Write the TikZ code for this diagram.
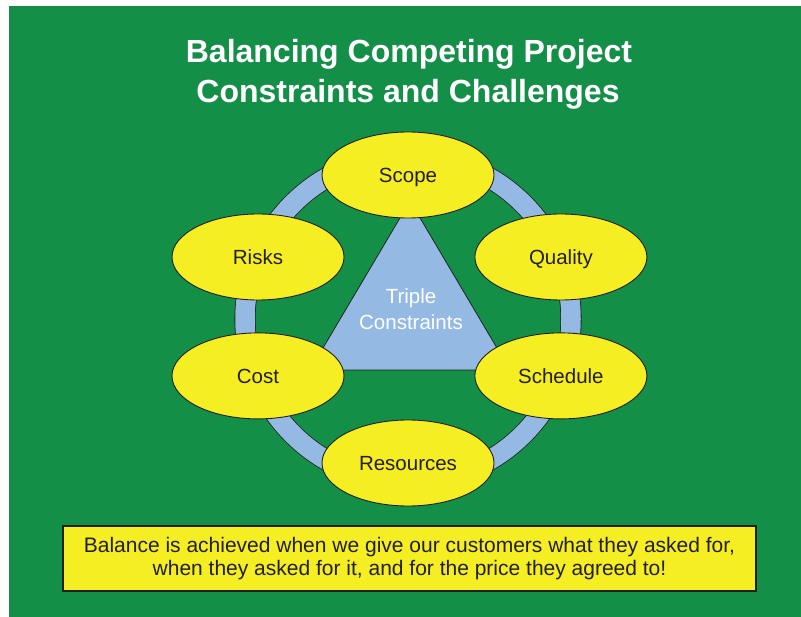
\documentclass[tikz,border=0pt]{standalone}
\usepackage{fontspec}
\setmainfont{Liberation Sans}
\usepackage{xcolor}
\usepackage{tikz}
\usetikzlibrary{positioning,calc,shapes.geometric}
\definecolor{bggreen}{RGB}{20,143,72}
\definecolor{ovalyellow}{RGB}{245,238,34}
\definecolor{ringblue}{RGB}{148,186,228}
\definecolor{inkgray}{RGB}{35,31,32}
\tikzset{
  figfont/.style={font=\fontsize{20.5}{26}\selectfont},
  titletext/.style={text=white, font=\bfseries\fontsize{32}{40}\selectfont},
  ovalbox/.style={ellipse, draw=inkgray, line width=0.9pt, fill=ovalyellow, text=inkgray,
    minimum width=172pt, minimum height=86pt, inner sep=0pt, text height=14.5pt, text depth=0pt},
  notebox/.style={draw=inkgray, line width=1.2pt, fill=ovalyellow, text=inkgray, align=center,
    minimum width=693pt, minimum height=65pt, font=\fontsize{21}{23.5}\selectfont},
  ringline/.style={draw=inkgray, line width=0.8pt, double=ringblue, double distance=19.5pt},
  tribox/.style={draw=inkgray, line width=0.8pt, fill=ringblue},
}
\begin{document}
\begin{tikzpicture}[x=1pt, y=-1pt, figfont]
  \useasboundingbox (0,0) rectangle (801,617);
  \fill[bggreen] (9,6) rectangle (801,617);

  % Title
  \node[titletext, anchor=base] (title1) at (409,63) {Balancing Competing Project};
  \node[titletext, anchor=base] (title2) at (408,103) {Constraints and Challenges};

  % Ring and triangle behind the ovals
  \coordinate (hub) at (408,319);
  \draw[ringline] (hub) circle[radius=163pt];
  \coordinate (apex) at (410,201);
  \coordinate (baseL) at (310,370);
  \coordinate (baseR) at (510,370);
  \filldraw[tribox] (apex) -- (baseL) -- (baseR) -- cycle;
  \node[text=white, align=center] (triple) at (411,309) {Triple\\Constraints};

  % Constraint ovals
  \node[ovalbox] (scope) at (408,175) {Scope};
  \node[ovalbox] (risks) at (258,257) {Risks};
  \node[ovalbox, right=130pt of risks] (quality) {Quality};
  \node[ovalbox, below=32pt of risks] (cost) {Cost};
  \node[ovalbox, below=32pt of quality] (schedule) {Schedule};
  \node[ovalbox] (resources) at (408,463) {Resources};

  % Note at the bottom
  \node[notebox] (note) at (409.5,558.5)
    {Balance is achieved when we give our customers what they asked for,\\when they asked for it, and for the price they agreed to!};
\end{tikzpicture}
\end{document}
